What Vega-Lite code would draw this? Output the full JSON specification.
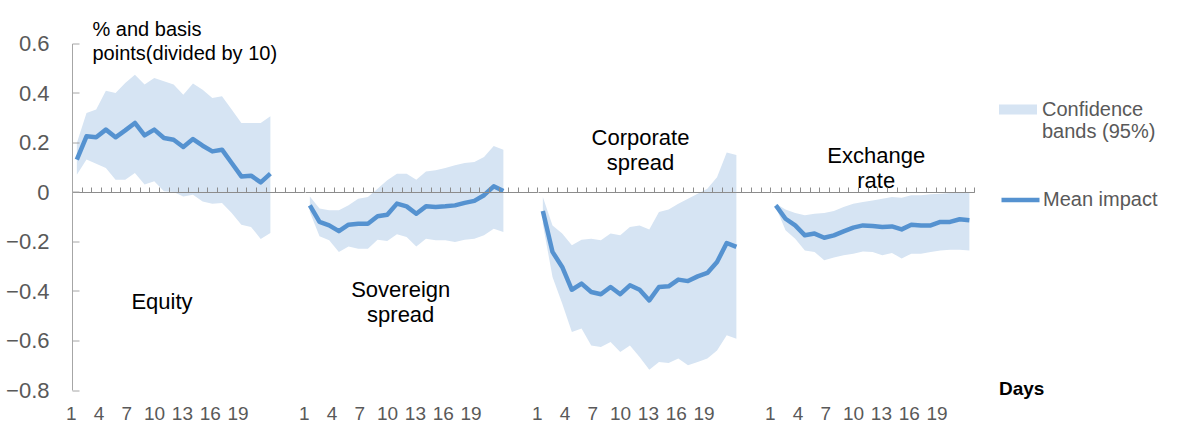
{
  "$schema": "https://vega.github.io/schema/vega-lite/v6.json",
  "background": "white",
  "padding": {"left": 5, "top": 19.5, "right": 5, "bottom": 5},
  "bounds": "flush",
  "spacing": 0,
  "config": {"font": "Liberation Sans", "view": {"stroke": null}, "axis": {"labelOverlap": false}},
  "datasets": {
    "impact": [
      {"series": "Equity", "day": 1, "mean": 0.131, "lo": 0.07, "hi": 0.198},
      {"series": "Equity", "day": 2, "mean": 0.225, "lo": 0.131, "hi": 0.319},
      {"series": "Equity", "day": 3, "mean": 0.221, "lo": 0.114, "hi": 0.333},
      {"series": "Equity", "day": 4, "mean": 0.252, "lo": 0.097, "hi": 0.409},
      {"series": "Equity", "day": 5, "mean": 0.221, "lo": 0.05, "hi": 0.4},
      {"series": "Equity", "day": 6, "mean": 0.249, "lo": 0.05, "hi": 0.44},
      {"series": "Equity", "day": 7, "mean": 0.279, "lo": 0.077, "hi": 0.474},
      {"series": "Equity", "day": 8, "mean": 0.229, "lo": 0.03, "hi": 0.434},
      {"series": "Equity", "day": 9, "mean": 0.252, "lo": 0.043, "hi": 0.461},
      {"series": "Equity", "day": 10, "mean": 0.218, "lo": 0.003, "hi": 0.447},
      {"series": "Equity", "day": 11, "mean": 0.211, "lo": 0.0, "hi": 0.434},
      {"series": "Equity", "day": 12, "mean": 0.182, "lo": -0.018, "hi": 0.393},
      {"series": "Equity", "day": 13, "mean": 0.214, "lo": -0.011, "hi": 0.438},
      {"series": "Equity", "day": 14, "mean": 0.187, "lo": -0.038, "hi": 0.413},
      {"series": "Equity", "day": 15, "mean": 0.164, "lo": -0.047, "hi": 0.38},
      {"series": "Equity", "day": 16, "mean": 0.171, "lo": -0.044, "hi": 0.387},
      {"series": "Equity", "day": 17, "mean": 0.117, "lo": -0.085, "hi": 0.333},
      {"series": "Equity", "day": 18, "mean": 0.063, "lo": -0.132, "hi": 0.279},
      {"series": "Equity", "day": 19, "mean": 0.066, "lo": -0.141, "hi": 0.279},
      {"series": "Equity", "day": 20, "mean": 0.039, "lo": -0.19, "hi": 0.279},
      {"series": "Equity", "day": 21, "mean": 0.074, "lo": -0.166, "hi": 0.306},
      {"series": "Sovereign spread", "day": 1, "mean": -0.054, "lo": -0.081, "hi": -0.018},
      {"series": "Sovereign spread", "day": 2, "mean": -0.121, "lo": -0.179, "hi": -0.067},
      {"series": "Sovereign spread", "day": 3, "mean": -0.135, "lo": -0.195, "hi": -0.074},
      {"series": "Sovereign spread", "day": 4, "mean": -0.158, "lo": -0.242, "hi": -0.074},
      {"series": "Sovereign spread", "day": 5, "mean": -0.132, "lo": -0.22, "hi": -0.054},
      {"series": "Sovereign spread", "day": 6, "mean": -0.128, "lo": -0.229, "hi": -0.027},
      {"series": "Sovereign spread", "day": 7, "mean": -0.128, "lo": -0.229, "hi": -0.02},
      {"series": "Sovereign spread", "day": 8, "mean": -0.098, "lo": -0.193, "hi": 0.013},
      {"series": "Sovereign spread", "day": 9, "mean": -0.092, "lo": -0.198, "hi": 0.047},
      {"series": "Sovereign spread", "day": 10, "mean": -0.047, "lo": -0.171, "hi": 0.074},
      {"series": "Sovereign spread", "day": 11, "mean": -0.058, "lo": -0.182, "hi": 0.074},
      {"series": "Sovereign spread", "day": 12, "mean": -0.088, "lo": -0.22, "hi": 0.05},
      {"series": "Sovereign spread", "day": 13, "mean": -0.058, "lo": -0.189, "hi": 0.083},
      {"series": "Sovereign spread", "day": 14, "mean": -0.061, "lo": -0.195, "hi": 0.088},
      {"series": "Sovereign spread", "day": 15, "mean": -0.058, "lo": -0.195, "hi": 0.097},
      {"series": "Sovereign spread", "day": 16, "mean": -0.054, "lo": -0.202, "hi": 0.108},
      {"series": "Sovereign spread", "day": 17, "mean": -0.044, "lo": -0.193, "hi": 0.117},
      {"series": "Sovereign spread", "day": 18, "mean": -0.036, "lo": -0.189, "hi": 0.121},
      {"series": "Sovereign spread", "day": 19, "mean": -0.013, "lo": -0.175, "hi": 0.141},
      {"series": "Sovereign spread", "day": 20, "mean": 0.023, "lo": -0.148, "hi": 0.186},
      {"series": "Sovereign spread", "day": 21, "mean": 0.004, "lo": -0.162, "hi": 0.171},
      {"series": "Corporate spread", "day": 1, "mean": -0.077, "lo": -0.13, "hi": -0.02},
      {"series": "Corporate spread", "day": 2, "mean": -0.242, "lo": -0.343, "hi": -0.135},
      {"series": "Corporate spread", "day": 3, "mean": -0.303, "lo": -0.451, "hi": -0.168},
      {"series": "Corporate spread", "day": 4, "mean": -0.395, "lo": -0.566, "hi": -0.215},
      {"series": "Corporate spread", "day": 5, "mean": -0.37, "lo": -0.552, "hi": -0.193},
      {"series": "Corporate spread", "day": 6, "mean": -0.404, "lo": -0.62, "hi": -0.189},
      {"series": "Corporate spread", "day": 7, "mean": -0.413, "lo": -0.626, "hi": -0.195},
      {"series": "Corporate spread", "day": 8, "mean": -0.384, "lo": -0.606, "hi": -0.168},
      {"series": "Corporate spread", "day": 9, "mean": -0.413, "lo": -0.646, "hi": -0.175},
      {"series": "Corporate spread", "day": 10, "mean": -0.377, "lo": -0.62, "hi": -0.141},
      {"series": "Corporate spread", "day": 11, "mean": -0.395, "lo": -0.667, "hi": -0.135},
      {"series": "Corporate spread", "day": 12, "mean": -0.438, "lo": -0.718, "hi": -0.152},
      {"series": "Corporate spread", "day": 13, "mean": -0.384, "lo": -0.687, "hi": -0.081},
      {"series": "Corporate spread", "day": 14, "mean": -0.381, "lo": -0.691, "hi": -0.071},
      {"series": "Corporate spread", "day": 15, "mean": -0.354, "lo": -0.673, "hi": -0.047},
      {"series": "Corporate spread", "day": 16, "mean": -0.36, "lo": -0.7, "hi": -0.027},
      {"series": "Corporate spread", "day": 17, "mean": -0.341, "lo": -0.687, "hi": -0.007},
      {"series": "Corporate spread", "day": 18, "mean": -0.327, "lo": -0.673, "hi": 0.013},
      {"series": "Corporate spread", "day": 19, "mean": -0.283, "lo": -0.64, "hi": 0.06},
      {"series": "Corporate spread", "day": 20, "mean": -0.206, "lo": -0.579, "hi": 0.16},
      {"series": "Corporate spread", "day": 21, "mean": -0.222, "lo": -0.593, "hi": 0.15},
      {"series": "Exchange rate", "day": 1, "mean": -0.054, "lo": -0.061, "hi": -0.047},
      {"series": "Exchange rate", "day": 2, "mean": -0.108, "lo": -0.155, "hi": -0.071},
      {"series": "Exchange rate", "day": 3, "mean": -0.135, "lo": -0.189, "hi": -0.085},
      {"series": "Exchange rate", "day": 4, "mean": -0.175, "lo": -0.236, "hi": -0.094},
      {"series": "Exchange rate", "day": 5, "mean": -0.168, "lo": -0.242, "hi": -0.088},
      {"series": "Exchange rate", "day": 6, "mean": -0.185, "lo": -0.276, "hi": -0.085},
      {"series": "Exchange rate", "day": 7, "mean": -0.175, "lo": -0.265, "hi": -0.077},
      {"series": "Exchange rate", "day": 8, "mean": -0.159, "lo": -0.256, "hi": -0.061},
      {"series": "Exchange rate", "day": 9, "mean": -0.144, "lo": -0.249, "hi": -0.047},
      {"series": "Exchange rate", "day": 10, "mean": -0.135, "lo": -0.24, "hi": -0.04},
      {"series": "Exchange rate", "day": 11, "mean": -0.137, "lo": -0.242, "hi": -0.034},
      {"series": "Exchange rate", "day": 12, "mean": -0.141, "lo": -0.256, "hi": -0.027},
      {"series": "Exchange rate", "day": 13, "mean": -0.139, "lo": -0.246, "hi": -0.02},
      {"series": "Exchange rate", "day": 14, "mean": -0.151, "lo": -0.269, "hi": -0.023},
      {"series": "Exchange rate", "day": 15, "mean": -0.132, "lo": -0.249, "hi": -0.013},
      {"series": "Exchange rate", "day": 16, "mean": -0.135, "lo": -0.249, "hi": -0.013},
      {"series": "Exchange rate", "day": 17, "mean": -0.135, "lo": -0.242, "hi": -0.009},
      {"series": "Exchange rate", "day": 18, "mean": -0.121, "lo": -0.236, "hi": -0.007},
      {"series": "Exchange rate", "day": 19, "mean": -0.121, "lo": -0.233, "hi": -0.004},
      {"series": "Exchange rate", "day": 20, "mean": -0.11, "lo": -0.233, "hi": -0.004},
      {"series": "Exchange rate", "day": 21, "mean": -0.114, "lo": -0.236, "hi": -0.004}
    ],
    "notes": [
      {"series": "Equity", "day": 9.8, "value": -0.446, "label": "Equity"},
      {"series": "Sovereign spread", "day": 10.39, "value": -0.397, "label": "Sovereign\nspread"},
      {"series": "Corporate spread", "day": 11.09, "value": 0.217, "label": "Corporate\nspread"},
      {"series": "Exchange rate", "day": 11.37, "value": 0.144, "label": "Exchange\nrate"}
    ]
  },
  "hconcat": [
    {
      "width": 232.26,
      "height": 346.5,
      "layer": [
        {
          "data": {"name": "impact"},
          "transform": [{"filter": "datum.series === 'Equity'"}],
          "mark": {"type": "area", "opacity": 1},
          "encoding": {
            "x": {"field": "day", "type": "quantitative", "scale": {"domain": [0.5, 24.5], "nice": false, "zero": false},
              "axis": {"orient": "top", "offset": -148.5, "zindex": 1, "tickCount": 200, "values": [1.5,2.5,3.5,4.5,5.5,6.5,7.5,8.5,9.5,10.5,11.5,12.5,13.5,14.5,15.5,16.5,17.5,18.5,19.5,20.5,21.5,22.5,23.5,24.5],
                "tickSize": 5, "tickColor": "#8c8c8c", "domainColor": "#8c8c8c", "grid": false,
                "labelExpr": "(datum.value - 0.5) % 3 == 1 && datum.value < 20 ? format(datum.value - 0.5, 'd') : ''",
                "labelPadding": -226.3, "labelBaseline": "middle", "labelOffset": {"expr": "-10.6 - 0.407 * (datum.value - 0.5)"}, "labelFontSize": 19, "labelColor": "#595959",
                "labelOverlap": false, "labelFlush": false, "labelBound": false, "title": null}},
            "y": {"field": "hi", "type": "quantitative", "scale": {"domain": [-0.8, 0.6], "nice": false, "zero": false},
              "axis": {"values": [-0.8, -0.6, -0.4, -0.2, 0, 0.2, 0.4, 0.6], "tickCount": 20, "zindex": 1,
                "labelExpr": "datum.value === 0 ? '0' : format(datum.value, '.1f')",
                "tickSize": -7, "labelPadding": 30, "tickColor": "#a6a6a6", "domainColor": "#a6a6a6", "grid": false,
                "labelFontSize": 22, "labelColor": "#595959", "labelFlush": false, "labelOverlap": false, "labelBound": false,
                "title": ["% and basis", "points(divided by 10)"], "titleAngle": 0, "titleAlign": "left", "titleBaseline": "top",
                "titleX": 20, "titleY": -24, "titleFontSize": 20, "titleFontWeight": "normal", "titleColor": "#000000", "titleLineHeight": 24}},
            "y2": {"field": "lo"},
            "fill": {"datum": "Confidence bands (95%)",
              "scale": {"domain": ["Confidence bands (95%)"], "range": ["#d6e4f3"]},
              "legend": {"orient": "none", "legendX": 927, "legendY": 47, "title": null,
                "symbolType": "M-1,-0.26L1,-0.26L1,0.26L-1,0.26Z", "symbolSize": 1444, "symbolStrokeWidth": 0, "symbolOpacity": 1,
                "labelFontSize": 20, "labelColor": "#595959", "labelOffset": 5, "labelLimit": 400,
                "labelExpr": "['Confidence', 'bands (95%)']"}}
          }
        },
        {
          "data": {"name": "impact"},
          "transform": [{"filter": "datum.series === 'Equity'"}],
          "mark": {"type": "line", "strokeWidth": 4.5, "strokeJoin": "round"},
          "encoding": {
            "x": {"field": "day", "type": "quantitative"},
            "y": {"field": "mean", "type": "quantitative"},
            "stroke": {"datum": "Mean impact",
              "scale": {"domain": ["Mean impact"], "range": ["#5592d0"]},
              "legend": {"orient": "none", "legendX": 927, "legendY": 135, "title": null,
                "symbolType": "stroke", "symbolSize": 1444, "symbolStrokeWidth": 4.5, "symbolOpacity": 1,
                "labelFontSize": 20, "labelColor": "#595959", "labelOffset": 1, "labelLimit": 400}}
          }
        },
        {
          "data": {"name": "notes"},
          "transform": [{"filter": "datum.series === 'Equity'"}],
          "mark": {"type": "text", "fontSize": 22, "lineBreak": "\n", "lineHeight": 25, "align": "center", "baseline": "middle", "color": "#000000"},
          "encoding": {
            "x": {"field": "day", "type": "quantitative"},
            "y": {"field": "value", "type": "quantitative"},
            "text": {"field": "label"}
          }
        }
      ]
    },
    {
      "width": 232.26,
      "height": 346.5,
      "layer": [
        {
          "data": {"name": "impact"},
          "transform": [{"filter": "datum.series === 'Sovereign spread'"}],
          "mark": {"type": "area", "opacity": 1},
          "encoding": {
            "x": {"field": "day", "type": "quantitative", "scale": {"domain": [0.5, 24.5], "nice": false, "zero": false},
              "axis": {"orient": "top", "offset": -148.5, "zindex": 1, "tickCount": 200, "values": [1.5,2.5,3.5,4.5,5.5,6.5,7.5,8.5,9.5,10.5,11.5,12.5,13.5,14.5,15.5,16.5,17.5,18.5,19.5,20.5,21.5,22.5,23.5,24.5],
                "tickSize": 5, "tickColor": "#8c8c8c", "domainColor": "#8c8c8c", "grid": false,
                "labelExpr": "(datum.value - 0.5) % 3 == 1 && datum.value < 20 ? format(datum.value - 0.5, 'd') : ''",
                "labelPadding": -226.3, "labelBaseline": "middle", "labelOffset": {"expr": "-10.6 - 0.407 * (datum.value - 0.5)"}, "labelFontSize": 19, "labelColor": "#595959",
                "labelOverlap": false, "labelFlush": false, "labelBound": false, "title": null}},
            "y": {"field": "hi", "type": "quantitative", "scale": {"domain": [-0.8, 0.6], "nice": false, "zero": false}, "axis": null},
            "y2": {"field": "lo"},
            "fill": {"datum": "Confidence bands (95%)", "legend": null}
          }
        },
        {
          "data": {"name": "impact"},
          "transform": [{"filter": "datum.series === 'Sovereign spread'"}],
          "mark": {"type": "line", "strokeWidth": 4.5, "strokeJoin": "round"},
          "encoding": {
            "x": {"field": "day", "type": "quantitative"},
            "y": {"field": "mean", "type": "quantitative"},
            "stroke": {"datum": "Mean impact", "legend": null}
          }
        },
        {
          "data": {"name": "notes"},
          "transform": [{"filter": "datum.series === 'Sovereign spread'"}],
          "mark": {"type": "text", "fontSize": 22, "lineBreak": "\n", "lineHeight": 25, "align": "center", "baseline": "middle", "color": "#000000"},
          "encoding": {
            "x": {"field": "day", "type": "quantitative"},
            "y": {"field": "value", "type": "quantitative"},
            "text": {"field": "label"}
          }
        }
      ]
    },
    {
      "width": 232.26,
      "height": 346.5,
      "layer": [
        {
          "data": {"name": "impact"},
          "transform": [{"filter": "datum.series === 'Corporate spread'"}],
          "mark": {"type": "area", "opacity": 1},
          "encoding": {
            "x": {"field": "day", "type": "quantitative", "scale": {"domain": [0.5, 24.5], "nice": false, "zero": false},
              "axis": {"orient": "top", "offset": -148.5, "zindex": 1, "tickCount": 200, "values": [1.5,2.5,3.5,4.5,5.5,6.5,7.5,8.5,9.5,10.5,11.5,12.5,13.5,14.5,15.5,16.5,17.5,18.5,19.5,20.5,21.5,22.5,23.5,24.5],
                "tickSize": 5, "tickColor": "#8c8c8c", "domainColor": "#8c8c8c", "grid": false,
                "labelExpr": "(datum.value - 0.5) % 3 == 1 && datum.value < 20 ? format(datum.value - 0.5, 'd') : ''",
                "labelPadding": -226.3, "labelBaseline": "middle", "labelOffset": {"expr": "-10.6 - 0.407 * (datum.value - 0.5)"}, "labelFontSize": 19, "labelColor": "#595959",
                "labelOverlap": false, "labelFlush": false, "labelBound": false, "title": null}},
            "y": {"field": "hi", "type": "quantitative", "scale": {"domain": [-0.8, 0.6], "nice": false, "zero": false}, "axis": null},
            "y2": {"field": "lo"},
            "fill": {"datum": "Confidence bands (95%)", "legend": null}
          }
        },
        {
          "data": {"name": "impact"},
          "transform": [{"filter": "datum.series === 'Corporate spread'"}],
          "mark": {"type": "line", "strokeWidth": 4.5, "strokeJoin": "round"},
          "encoding": {
            "x": {"field": "day", "type": "quantitative"},
            "y": {"field": "mean", "type": "quantitative"},
            "stroke": {"datum": "Mean impact", "legend": null}
          }
        },
        {
          "data": {"name": "notes"},
          "transform": [{"filter": "datum.series === 'Corporate spread'"}],
          "mark": {"type": "text", "fontSize": 22, "lineBreak": "\n", "lineHeight": 25, "align": "center", "baseline": "middle", "color": "#000000"},
          "encoding": {
            "x": {"field": "day", "type": "quantitative"},
            "y": {"field": "value", "type": "quantitative"},
            "text": {"field": "label"}
          }
        }
      ]
    },
    {
      "width": 203.22,
      "height": 346.5,
      "layer": [
        {
          "data": {"name": "impact"},
          "transform": [{"filter": "datum.series === 'Exchange rate'"}],
          "mark": {"type": "area", "opacity": 1},
          "encoding": {
            "x": {"field": "day", "type": "quantitative", "scale": {"domain": [0.5, 21.5], "nice": false, "zero": false},
              "axis": {"orient": "top", "offset": -148.5, "zindex": 1, "tickCount": 200, "values": [1.5,2.5,3.5,4.5,5.5,6.5,7.5,8.5,9.5,10.5,11.5,12.5,13.5,14.5,15.5,16.5,17.5,18.5,19.5,20.5,21.5],
                "tickSize": 5, "tickColor": "#8c8c8c", "domainColor": "#8c8c8c", "grid": false,
                "labelExpr": "(datum.value - 0.5) % 3 == 1 && datum.value < 20 ? format(datum.value - 0.5, 'd') : ''",
                "labelPadding": -226.3, "labelBaseline": "middle", "labelOffset": {"expr": "-10.6 - 0.407 * (datum.value - 0.5)"}, "labelFontSize": 19, "labelColor": "#595959",
                "labelOverlap": false, "labelFlush": false, "labelBound": false,
                "title": "Days", "titleX": 250.2, "titleY": 196.3, "titleAlign": "center", "titleBaseline": "middle", "titleAngle": 0,
                "titleFontSize": 19, "titleFontWeight": "bold", "titleColor": "#000000"}},
            "y": {"field": "hi", "type": "quantitative", "scale": {"domain": [-0.8, 0.6], "nice": false, "zero": false}, "axis": null},
            "y2": {"field": "lo"},
            "fill": {"datum": "Confidence bands (95%)", "legend": null}
          }
        },
        {
          "data": {"name": "impact"},
          "transform": [{"filter": "datum.series === 'Exchange rate'"}],
          "mark": {"type": "line", "strokeWidth": 4.5, "strokeJoin": "round"},
          "encoding": {
            "x": {"field": "day", "type": "quantitative"},
            "y": {"field": "mean", "type": "quantitative"},
            "stroke": {"datum": "Mean impact", "legend": null}
          }
        },
        {
          "data": {"name": "notes"},
          "transform": [{"filter": "datum.series === 'Exchange rate'"}],
          "mark": {"type": "text", "fontSize": 22, "lineBreak": "\n", "lineHeight": 25, "align": "center", "baseline": "middle", "color": "#000000"},
          "encoding": {
            "x": {"field": "day", "type": "quantitative"},
            "y": {"field": "value", "type": "quantitative"},
            "text": {"field": "label"}
          }
        }
      ]
    }
  ]
}
